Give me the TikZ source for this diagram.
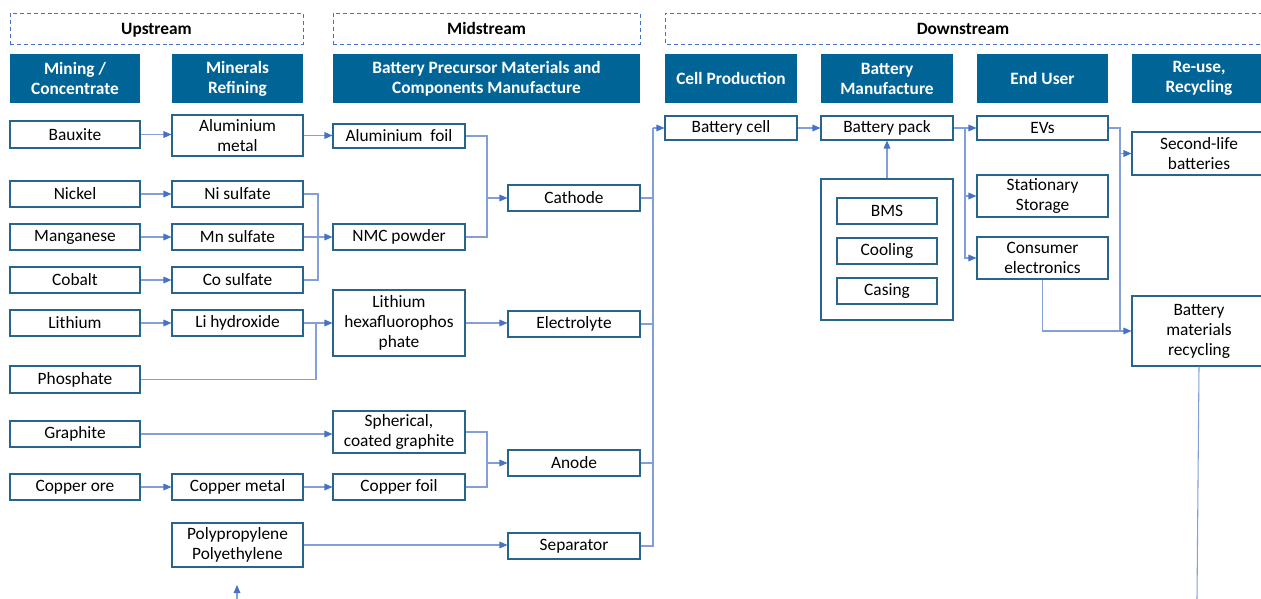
\documentclass[tikz,border=0pt]{standalone}
\usepackage{fontspec}
\setmainfont{Carlito}
\usetikzlibrary{arrows.meta}

\definecolor{hdr}{RGB}{0,100,150}
\definecolor{boxc}{RGB}{40,100,140}
\definecolor{dashc}{RGB}{68,114,196}
\definecolor{linec}{RGB}{130,160,215}
\definecolor{arrc}{RGB}{68,114,196}

\tikzset{
  box/.style={draw=boxc, line width=0.8pt, inner sep=0pt, align=center,
    font=\fontsize{13}{15}\selectfont},
  hbox/.style={fill=hdr, draw=none, text=white, inner sep=0pt, align=center,
    font=\bfseries\fontsize{13}{15}\selectfont},
  dbox/.style={draw=dashc, line width=0.7pt, dash pattern=on 3pt off 2.2pt,
    inner sep=0pt, align=center, text height=11pt, text depth=2pt,
    font=\bfseries\fontsize{13}{15}\selectfont},
  link/.style={draw=linec, line width=0.8pt},
  arr/.style={link, -{Triangle[length=6pt,width=5pt,color=arrc]}}
}

% box from corner (x1,y1) to (x2,y2) in pixel units
\newcommand\bx[7]{\node[#1, minimum width={0.75pt*(#5-#3)},
  minimum height={0.75pt*(#6-#4)}] (#2) at ({(#3+#5)/2},{(#4+#6)/2}) {#7};}

\begin{document}
\begin{tikzpicture}[x=0.75pt, y=-0.75pt]
\useasboundingbox (0,0) rectangle (1261,599);
\clip (0,0) rectangle (1261,599);

% stage bands
\bx{dbox}{up}{10}{13}{303}{44}{Upstream}
\bx{dbox}{mid}{333}{13}{640}{44}{Midstream}
\draw[dashc, line width=0.7pt, dash pattern=on 3pt off 2.2pt]
  (1270,13) -- (665,13) -- (665,44) -- (1270,44);
\node[font=\bfseries\fontsize{13}{15}\selectfont, inner sep=0pt,
  text height=11pt, text depth=2pt] (down) at (963,28.5) {Downstream};

% column headings
\bx{hbox}{h1}{10}{54}{140}{103}{Mining /\\Concentrate}
\bx{hbox}{h2}{172}{54}{303}{103}{Minerals\\Refining}
\bx{hbox}{h3}{333}{54}{640}{103}{Battery Precursor Materials and\\Components Manufacture}
\bx{hbox}{h4}{665}{54}{797}{103}{Cell Production}
\bx{hbox}{h5}{821}{54}{953}{103}{Battery\\Manufacture}
\bx{hbox}{h6}{977}{54}{1108}{103}{End User}
\bx{hbox}{h7}{1132}{54}{1266}{103}{Re-use,\\Recycling}

% mining / concentrate
\bx{box}{baux}{10}{121}{140}{148}{Bauxite}
\bx{box}{nick}{10}{181}{140}{207}{Nickel}
\bx{box}{mang}{10}{224}{140}{250}{Manganese}
\bx{box}{coba}{10}{267}{140}{293}{Cobalt}
\bx{box}{lith}{10}{310}{140}{336}{Lithium}
\bx{box}{phos}{10}{366}{140}{393}{Phosphate}
\bx{box}{grap}{10}{421}{140}{447}{Graphite}
\bx{box}{cuore}{10}{474}{140}{500}{Copper ore}

% minerals refining
\bx{box}{almet}{172}{115}{303}{156}{Aluminium\\metal}
\bx{box}{nis}{172}{181}{303}{207}{Ni sulfate}
\bx{box}{mns}{172}{224}{303}{250}{Mn sulfate}
\bx{box}{cos}{172}{267}{303}{293}{Co sulfate}
\bx{box}{lioh}{172}{310}{303}{336}{Li hydroxide}
\bx{box}{cumet}{172}{474}{303}{500}{Copper metal}
\bx{box}{poly}{172}{523}{303}{567}{Polypropylene\\Polyethylene}

% precursor materials
\bx{box}{alfoil}{333}{124}{465}{148}{Aluminium~ foil}
\bx{box}{nmc}{333}{224}{465}{250}{NMC powder}
\bx{box}{lipf}{333}{290}{465}{356}{Lithium\\hexafluorophos\\phate}
\bx{box}{sph}{333}{411}{465}{453}{Spherical,\\coated graphite}
\bx{box}{cufoil}{333}{474}{465}{500}{Copper foil}

% components
\bx{box}{cath}{508}{185}{640}{211}{Cathode}
\bx{box}{elec}{508}{311}{640}{337}{Electrolyte}
\bx{box}{anod}{508}{450}{640}{476}{Anode}
\bx{box}{sepa}{508}{533}{640}{559}{Separator}

% downstream
\bx{box}{cell}{665}{116}{797}{140}{Battery cell}
\bx{box}{pack}{821}{116}{953}{140}{Battery pack}
\bx{box}{cont}{821}{179}{953}{320}{}
\bx{box}{bms}{837}{198}{937}{224}{BMS}
\bx{box}{cool}{837}{238}{937}{264}{Cooling}
\bx{box}{casi}{837}{278}{937}{304}{Casing}
\bx{box}{evs}{977}{116}{1108}{140}{EVs}
\bx{box}{stat}{977}{175}{1108}{217}{Stationary\\Storage}
\bx{box}{cons}{977}{237}{1108}{279}{Consumer\\electronics}
\bx{box}{second}{1132}{132}{1266}{175}{Second-life\\batteries}
\bx{box}{recyc}{1132}{296}{1266}{366}{Battery\\materials\\recycling}

% junction points
\coordinate (jn) at (318,237);
\coordinate (jl) at (316,323);
\coordinate (jc) at (487,198);
\coordinate (ja) at (487,463);
\coordinate (bt) at (653,128);
\coordinate (eb) at (965,128);
\coordinate (rt) at (1120,128);
\coordinate (rend) at (1197,599);
\coordinate (pin) at (237,599);
\coordinate (ptip) at (237,585);

% upstream flows
\draw[arr] (baux.east) -- (baux.east -| almet.west);
\draw[arr] (almet.east) -- (almet.east -| alfoil.west);
\draw[arr] (nick.east) -- (nis.west);
\draw[arr] (mang.east) -- (mns.west);
\draw[arr] (coba.east) -- (cos.west);
\draw[arr] (lith.east) -- (lioh.west);
\draw[arr] (cuore.east) -- (cumet.west);
\draw[arr] (cumet.east) -- (cufoil.west);
\draw[arr] (grap.east) -- (grap.east -| sph.west);

% NMC powder
\draw[link] (nis.east) -| (jn);
\draw[link] (cos.east) -| (jn);
\draw[arr] (mns.east) -- (nmc.west);

% electrolyte salt
\draw[link] (phos.east) -| (jl);
\draw[arr] (lioh.east) -- (lipf.west);
\draw[arr] (lipf.east) -- (lipf.east -| elec.west);

% cathode and anode
\draw[link] (alfoil.east) -| (jc);
\draw[link] (nmc.east) -| (jc);
\draw[arr] (jc) -- (cath.west);
\draw[link] (sph.east) -| (ja);
\draw[link] (cufoil.east) -| (ja);
\draw[arr] (ja) -- (anod.west);
\draw[arr] (poly.east) -- (poly.east -| sepa.west);
\draw[arr] (pin) -- (ptip);

% into cell production
\draw[link] (cath.east) -- (cath.east -| bt);
\draw[link] (elec.east) -- (elec.east -| bt);
\draw[link] (anod.east) -- (anod.east -| bt);
\draw[link] (sepa.east) -| (bt);
\draw[arr] (bt) -- (cell.west);
\draw[arr] (cell.east) -- (pack.west);
\draw[arr] (cont.north) -- (pack.south);

% end use
\draw[arr] (pack.east) -- (evs.west);
\draw[arr] (eb) |- (stat.west);
\draw[arr] (eb) |- (cons.west);

% re-use and recycling
\draw[arr] (evs.east) -- (rt) |- (recyc.west);
\draw[arr] (rt |- second.west) -- (second.west);
\draw[link] (cons.south) |- (recyc.west -| rt);
\draw[link] (recyc.south) -- (rend);
\end{tikzpicture}
\end{document}
